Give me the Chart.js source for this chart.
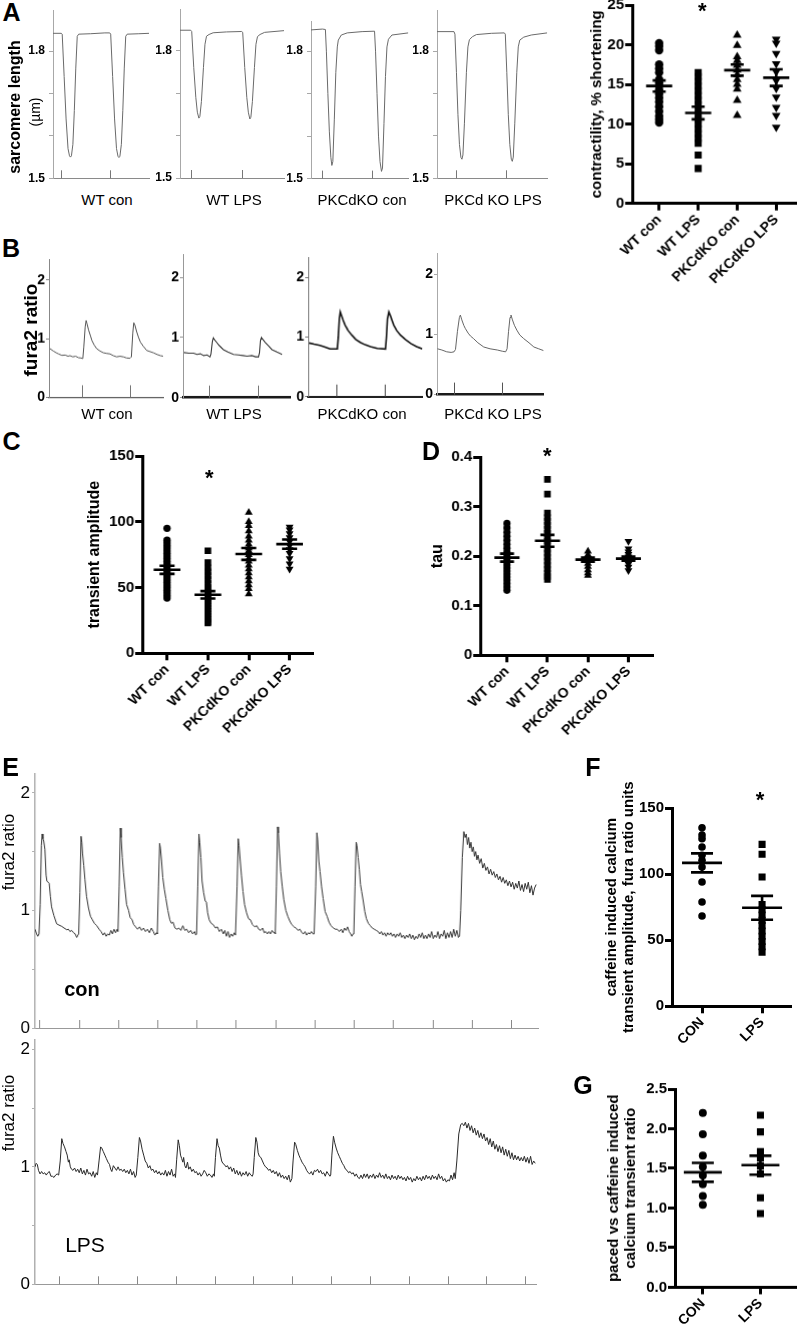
<!DOCTYPE html>
<html>
<head>
<meta charset="utf-8">
<script src="https://cdn.jsdelivr.net/npm/chart.js@4.4.1/dist/chart.umd.min.js"></script>
<style>
body { margin: 0; background: #fff; }
#fig { position: relative; width: 800px; height: 1325px; overflow: hidden; background: #fff;
       font-family: Arial, "Liberation Sans", Helvetica, sans-serif; color: #000; }
.box { position: absolute; }
.lab { position: absolute; white-space: nowrap; line-height: 1; }
</style>
</head>
<body>
<div id="fig"></div>
<script>
// ---- categories and tick labels ----
const scatterCats = ['WT con', 'WT LPS', 'PKCdKO con', 'PKCdKO LPS'];
const caffCats = ['CON', 'LPS'];
const traceNames = ['WT con', 'WT LPS', 'PKCdKO con', 'PKCd KO LPS'];

const slTicks = [1.5, 1.6, 1.7, 1.8];
const slTickLabels = ['1.5', '', '', '1.8'];
const furaTicks = [0, 1, 2];
const furaTickLabels = ['0', '1', '2'];
const eTicks = [0, 0.5, 1, 1.5, 2];
const eTickLabels = ['0', '', '1', '', '2'];
const shortTicks = [0, 5, 10, 15, 20, 25];
const ampTicks = [0, 50, 100, 150];
const tauTicks = [0, 0.1, 0.2, 0.3, 0.4];
const caffTicks = [0, 50, 100, 150];
const ratioTicks = [0, 0.5, 1, 1.5, 2, 2.5];

// stimulus marks (time units of each trace)
const stimAB = [0, 1];
const stimE = [0, 1, 2, 3, 4, 5, 6, 7, 8, 9, 10, 11, 12];

// ---- A: contractility, % shortening ----
const shortWtCon = [20.2, 19.8, 19.3, 17.5, 17.0, 16.5, 15.6, 15.2, 14.8, 14.3, 13.8, 13.3, 12.8, 12.2, 11.6, 11.0, 10.6, 10.2];
const shortWtLps = [16.5, 16.0, 15.4, 14.8, 14.2, 13.6, 13.0, 12.4, 11.8, 11.2, 10.6, 10.0, 9.4, 8.8, 8.2, 7.6, 6.1, 4.4];
const shortKoCon = [21.2, 19.9, 18.5, 18.0, 17.4, 16.8, 16.2, 15.6, 15.0, 14.4, 13.0, 11.1];
const shortKoLps = [20.7, 20.2, 18.9, 17.6, 16.6, 15.5, 14.5, 13.4, 12.1, 11.1, 9.6];
const shortMean = [14.8, 11.4, 16.8, 15.85];
const shortSem = [0.7, 0.8, 0.7, 1.05];

// ---- C: transient amplitude ----
const ampWtCon = [95, 86, 84, 82, 80, 78, 76, 74, 72, 70, 68, 66, 64, 62, 60, 58, 56, 54, 52, 50, 48, 46, 44, 42];
const ampWtLps = [78, 69, 65, 62, 59, 56, 53, 50, 48, 46, 44, 42, 40, 38, 36, 34, 32, 30, 28, 26, 24, 23];
const ampKoCon = [107, 100, 97, 93, 89, 86, 83, 80, 78, 75, 72, 70, 67, 64, 61, 58, 55, 52, 49, 45];
const ampKoLps = [96, 94, 91, 88, 85, 82, 79, 76, 72, 68, 64];
const ampMean = [63.5, 44.5, 75.5, 83];
const ampSem = [3.1, 2.8, 4.5, 3.5];

// ---- D: tau ----
const tauWtCon = [0.266, 0.257, 0.248, 0.240, 0.232, 0.224, 0.216, 0.208, 0.200, 0.194, 0.188, 0.182, 0.176, 0.170, 0.164, 0.158, 0.152, 0.145, 0.138, 0.131];
const tauWtLps = [0.355, 0.325, 0.287, 0.278, 0.270, 0.262, 0.254, 0.246, 0.238, 0.230, 0.222, 0.214, 0.206, 0.198, 0.190, 0.182, 0.174, 0.166, 0.159, 0.153];
const tauKoCon = [0.210, 0.203, 0.197, 0.191, 0.185, 0.179, 0.172, 0.166, 0.161];
const tauKoLps = [0.230, 0.215, 0.209, 0.204, 0.199, 0.194, 0.189, 0.184, 0.178, 0.171];
const tauMean = [0.197, 0.231, 0.193, 0.195];
const tauSem = [0.008, 0.012, 0.004, 0.004];

// ---- F: caffeine induced transient amplitude ----
const caffCon = [135, 129.6, 126.8, 120.5, 114.2, 110.4, 105.4, 94, 78.9, 68.3];
const caffLps = [122.5, 115, 97.8, 77, 73, 69, 65, 61, 57, 53, 49, 45, 41];
const caffMean = [108.5, 74.5];
const caffSem = [7.2, 9];

// ---- G: paced vs caffeine ratio ----
const ratioCon = [2.20, 1.93, 1.66, 1.52, 1.41, 1.30, 1.15, 1.04];
const ratioLps = [2.17, 1.96, 1.71, 1.63, 1.53, 1.43, 1.13, 0.93];
const ratioMean = [1.45, 1.54];
const ratioSem = [0.12, 0.12];

// ---- A traces: sarcomere length [t, um] ----
const slWtCon = [[-0.17,1.842],[0.0,1.842],[0.02,1.84],[0.06,1.74],[0.1,1.64],[0.14,1.57],[0.17,1.553],[0.19,1.55],[0.21,1.553],[0.24,1.58],[0.27,1.66],[0.3,1.76],[0.33,1.835],[0.36,1.84],[0.6,1.841],[0.9,1.843],[1.0,1.843],[1.02,1.84],[1.06,1.74],[1.1,1.64],[1.14,1.57],[1.17,1.552],[1.19,1.549],[1.21,1.552],[1.24,1.58],[1.27,1.66],[1.3,1.76],[1.33,1.835],[1.36,1.84],[1.6,1.841],[1.81,1.842]];
const slWtLps = [[-0.21,1.848],[0.0,1.848],[0.02,1.845],[0.06,1.76],[0.1,1.69],[0.13,1.655],[0.16,1.641],[0.18,1.645],[0.21,1.68],[0.25,1.76],[0.28,1.815],[0.31,1.834],[0.36,1.838],[0.44,1.842],[0.7,1.844],[1.0,1.845],[1.02,1.843],[1.06,1.76],[1.1,1.69],[1.13,1.655],[1.16,1.639],[1.18,1.643],[1.21,1.68],[1.25,1.76],[1.28,1.815],[1.31,1.833],[1.36,1.838],[1.45,1.843],[1.83,1.847]];
const slKoCon = [[-0.23,1.85],[0.0,1.852],[0.06,1.851],[0.08,1.8],[0.11,1.7],[0.14,1.61],[0.17,1.55],[0.19,1.531],[0.21,1.54],[0.24,1.64],[0.27,1.75],[0.3,1.81],[0.32,1.826],[0.38,1.838],[0.5,1.843],[0.8,1.846],[1.05,1.847],[1.07,1.8],[1.1,1.7],[1.13,1.6],[1.16,1.54],[1.19,1.517],[1.21,1.525],[1.24,1.63],[1.27,1.74],[1.3,1.81],[1.33,1.828],[1.4,1.838],[1.73,1.843]];
const slKoLps = [[-0.39,1.846],[-0.05,1.846],[-0.03,1.84],[0.0,1.75],[0.03,1.65],[0.06,1.58],[0.09,1.549],[0.11,1.545],[0.13,1.555],[0.16,1.63],[0.2,1.75],[0.23,1.81],[0.26,1.827],[0.32,1.834],[0.4,1.839],[0.7,1.842],[0.96,1.843],[0.98,1.84],[1.01,1.75],[1.04,1.65],[1.07,1.58],[1.1,1.545],[1.12,1.54],[1.14,1.55],[1.17,1.63],[1.21,1.75],[1.24,1.81],[1.27,1.826],[1.35,1.833],[1.5,1.838],[1.82,1.843]];

// ---- B traces: fura2 ratio [t, ratio] ----
const furaWtCon = [[-0.68,0.83],[-0.61,0.79],[-0.55,0.76],[-0.5,0.74],[-0.43,0.715],[-0.36,0.72],[-0.3,0.70],[-0.26,0.71],[-0.2,0.69],[-0.14,0.70],[-0.08,0.675],[-0.03,0.67],[0.01,0.66],[0.03,0.85],[0.06,1.2],[0.08,1.31],[0.1,1.25],[0.13,1.15],[0.17,1.05],[0.2,0.97],[0.25,0.89],[0.3,0.83],[0.37,0.79],[0.44,0.76],[0.5,0.75],[0.58,0.74],[0.65,0.71],[0.72,0.69],[0.79,0.70],[0.86,0.69],[0.93,0.67],[1.0,0.665],[1.03,0.69],[1.06,1.1],[1.08,1.27],[1.1,1.24],[1.14,1.12],[1.18,1.02],[1.22,0.94],[1.28,0.87],[1.35,0.80],[1.42,0.78],[1.49,0.76],[1.57,0.73],[1.64,0.71],[1.70,0.70]];
const furaWtLps = [[-0.53,0.75],[-0.43,0.74],[-0.33,0.74],[-0.26,0.72],[-0.19,0.73],[-0.12,0.70],[-0.05,0.71],[0.01,0.68],[0.03,0.72],[0.06,0.93],[0.08,0.995],[0.11,0.96],[0.15,0.92],[0.2,0.87],[0.29,0.80],[0.38,0.76],[0.5,0.72],[0.6,0.71],[0.7,0.70],[0.78,0.69],[0.88,0.70],[0.96,0.68],[1.02,0.68],[1.04,0.75],[1.06,0.95],[1.08,1.0],[1.12,0.96],[1.16,0.92],[1.23,0.86],[1.3,0.80],[1.4,0.76],[1.51,0.72]];
const furaKoCon = [[-0.55,0.90],[-0.45,0.88],[-0.33,0.86],[-0.22,0.83],[-0.12,0.80],[-0.05,0.80],[0.03,0.80],[0.05,1.0],[0.07,1.3],[0.09,1.42],[0.12,1.35],[0.15,1.28],[0.19,1.20],[0.25,1.11],[0.33,1.03],[0.41,0.96],[0.5,0.91],[0.6,0.87],[0.71,0.84],[0.85,0.81],[1.02,0.80],[1.04,1.0],[1.06,1.3],[1.09,1.42],[1.12,1.36],[1.15,1.29],[1.19,1.20],[1.25,1.11],[1.33,1.03],[1.43,0.96],[1.54,0.89],[1.66,0.84],[1.78,0.80]];
const furaKoLps = [[-0.33,0.76],[-0.24,0.74],[-0.14,0.71],[-0.05,0.70],[0.01,0.71],[0.04,0.75],[0.08,1.05],[0.12,1.28],[0.14,1.32],[0.17,1.24],[0.21,1.15],[0.24,1.10],[0.3,1.02],[0.35,0.97],[0.41,0.93],[0.5,0.86],[0.62,0.79],[0.75,0.76],[0.9,0.74],[1.0,0.72],[1.07,0.71],[1.1,0.76],[1.13,1.05],[1.16,1.28],[1.18,1.32],[1.21,1.24],[1.25,1.15],[1.3,1.07],[1.36,0.99],[1.44,0.93],[1.55,0.86],[1.65,0.79],[1.75,0.76],[1.85,0.73]];

// ---- E traces: paced beats then caffeine [t, ratio] ----
const eCon = [
  [-0.11,0.84],[-0.07,0.80],[-0.04,0.78],[-0.01,0.80],[0.02,1.05],[0.05,1.55],[0.07,1.65],[0.09,1.61],[0.11,1.59],[0.14,1.52],[0.17,1.30],[0.19,1.25],[0.25,1.23],[0.28,1.12],[0.31,1.03],[0.37,0.955],[0.44,0.886],[0.5,0.875],[0.57,0.864],[0.63,0.85],[0.7,0.835],[0.74,0.84],[0.78,0.82],[0.82,0.83],[0.87,0.81],[0.91,0.80],[0.95,0.77],[0.98,0.79],
  [1.0,0.80],[1.03,1.15],[1.06,1.63],[1.08,1.58],[1.1,1.48],[1.13,1.38],[1.16,1.26],[1.2,1.12],[1.25,1.02],[1.3,0.95],[1.35,0.92],[1.4,0.89],[1.46,0.87],[1.52,0.84],[1.57,0.82],[1.62,0.79],[1.66,0.81],[1.7,0.78],[1.74,0.80],[1.78,0.79],[1.82,0.83],[1.86,0.80],[1.9,0.84],[1.94,0.81],[1.98,0.84],
  [2.0,0.82],[2.03,1.2],[2.06,1.70],[2.08,1.62],[2.11,1.45],[2.14,1.32],[2.18,1.18],[2.22,1.05],[2.27,1.00],[2.31,0.94],[2.36,0.92],[2.4,0.88],[2.45,0.86],[2.5,0.84],[2.55,0.86],[2.6,0.83],[2.65,0.85],[2.7,0.82],[2.75,0.84],[2.8,0.81],[2.85,0.85],[2.9,0.82],[2.94,0.79],[2.98,0.81],
  [3.0,0.80],[3.03,1.2],[3.06,1.57],[3.08,1.53],[3.11,1.42],[3.14,1.28],[3.18,1.18],[3.22,1.10],[3.27,1.00],[3.32,0.92],[3.36,0.89],[3.4,0.90],[3.45,0.85],[3.5,0.84],[3.55,0.85],[3.6,0.83],[3.65,0.87],[3.7,0.83],[3.75,0.84],[3.8,0.81],[3.85,0.83],[3.9,0.80],[3.95,0.82],[3.98,0.79],
  [4.0,0.80],[4.03,1.2],[4.06,1.65],[4.08,1.58],[4.11,1.45],[4.14,1.25],[4.18,1.15],[4.22,1.08],[4.25,1.07],[4.28,0.98],[4.32,0.92],[4.37,0.89],[4.42,0.88],[4.48,0.85],[4.53,0.86],[4.58,0.82],[4.63,0.84],[4.68,0.80],[4.72,0.83],[4.76,0.78],[4.8,0.82],[4.84,0.77],[4.88,0.80],[4.92,0.78],[4.96,0.81],[4.99,0.79],
  [5.0,0.79],[5.03,1.2],[5.06,1.61],[5.08,1.55],[5.11,1.42],[5.14,1.30],[5.18,1.16],[5.22,1.05],[5.27,0.98],[5.32,0.93],[5.37,0.92],[5.42,0.88],[5.48,0.86],[5.53,0.87],[5.58,0.84],[5.63,0.83],[5.68,0.85],[5.72,0.81],[5.76,0.82],[5.8,0.80],[5.84,0.82],[5.88,0.80],[5.92,0.83],[5.96,0.81],[5.99,0.81],
  [6.0,0.80],[6.03,1.2],[6.06,1.71],[6.08,1.66],[6.11,1.48],[6.14,1.33],[6.18,1.20],[6.22,1.09],[6.27,1.0],[6.32,0.95],[6.37,0.91],[6.42,0.88],[6.48,0.86],[6.53,0.85],[6.58,0.83],[6.63,0.84],[6.68,0.81],[6.72,0.80],[6.76,0.82],[6.8,0.79],[6.84,0.81],[6.88,0.80],[6.92,0.82],[6.96,0.80],[6.99,0.80],
  [7.0,0.80],[7.03,1.2],[7.06,1.66],[7.08,1.60],[7.11,1.42],[7.14,1.33],[7.18,1.20],[7.22,1.10],[7.27,0.99],[7.32,0.95],[7.37,0.90],[7.42,0.87],[7.48,0.85],[7.53,0.84],[7.58,0.84],[7.63,0.82],[7.68,0.84],[7.72,0.81],[7.76,0.85],[7.8,0.83],[7.84,0.86],[7.88,0.82],[7.92,0.80],[7.95,0.78],[7.98,0.80],
  [8.0,0.80],[8.03,1.2],[8.06,1.58],[8.08,1.55],[8.11,1.45],[8.14,1.35],[8.17,1.22],[8.2,1.16],[8.24,1.08],[8.28,0.99],[8.32,0.93],[8.37,0.89],[8.42,0.87],[8.47,0.85],[8.52,0.84],[8.57,0.83],
  [8.62,0.82],[8.66,0.80],[8.7,0.82],[8.74,0.79],[8.78,0.81],[8.82,0.78],[8.86,0.81],[8.9,0.79],[8.94,0.81],[8.98,0.78],[9.02,0.80],[9.06,0.77],[9.1,0.80],[9.14,0.78],[9.18,0.81],[9.22,0.77],[9.26,0.79],[9.3,0.76],[9.34,0.79],[9.38,0.77],[9.42,0.80],[9.46,0.76],[9.5,0.79],[9.54,0.75],[9.58,0.78],[9.62,0.76],[9.66,0.80],[9.7,0.77],[9.74,0.81],[9.78,0.76],[9.82,0.79],[9.86,0.76],[9.9,0.80],[9.94,0.77],[9.98,0.82],[10.02,0.76],[10.06,0.79],[10.1,0.77],[10.14,0.82],[10.18,0.76],[10.22,0.80],[10.26,0.78],[10.3,0.83],[10.34,0.76],[10.38,0.81],[10.42,0.77],[10.46,0.82],[10.5,0.77],[10.54,0.84],[10.58,0.78],[10.62,0.83],[10.66,0.77],[10.69,0.78],
  [10.72,1.0],[10.76,1.45],[10.8,1.67],[10.83,1.62],[10.86,1.65],[10.89,1.56],[10.92,1.62],[10.95,1.53],[10.98,1.58],[11.01,1.50],[11.04,1.54],[11.07,1.46],[11.1,1.50],[11.13,1.43],[11.16,1.47],[11.2,1.40],[11.24,1.44],[11.28,1.36],[11.32,1.40],[11.36,1.34],[11.4,1.37],[11.44,1.31],[11.48,1.35],[11.52,1.30],[11.56,1.33],[11.6,1.28],[11.64,1.31],[11.68,1.26],[11.72,1.29],[11.76,1.24],[11.8,1.28],[11.84,1.23],[11.88,1.26],[11.92,1.21],[11.96,1.25],[12.0,1.20],[12.04,1.24],[12.08,1.18],[12.12,1.23],[12.16,1.19],[12.2,1.25],[12.24,1.17],[12.28,1.22],[12.32,1.16],[12.36,1.23],[12.4,1.18],[12.44,1.24],[12.48,1.15],[12.52,1.21],[12.56,1.13],[12.6,1.19],[12.64,1.22]
];
const eLps = [
  [-0.63,1.0],[-0.6,1.03],[-0.57,1.02],[-0.54,0.97],[-0.5,0.94],[-0.46,0.96],[-0.42,0.94],[-0.38,0.95],[-0.34,0.93],[-0.3,0.95],[-0.26,0.96],[-0.22,0.92],[-0.18,0.92],[-0.14,0.91],[-0.1,0.93],[-0.06,0.94],[-0.02,0.93],[0.02,1.05],[0.06,1.24],[0.09,1.20],[0.13,1.17],[0.17,1.13],[0.2,1.10],[0.23,1.04],[0.25,1.06],[0.28,1.00],[0.31,0.98],[0.35,0.97],[0.39,0.99],[0.43,0.96],[0.47,0.98],[0.51,0.95],[0.55,0.99],[0.59,0.94],[0.63,0.97],[0.67,0.93],[0.71,0.98],[0.75,0.94],[0.79,0.95],[0.83,0.92],[0.87,0.96],[0.91,0.91],[0.95,0.95],[0.98,0.93],
  [1.02,1.05],[1.06,1.17],[1.09,1.16],[1.13,1.13],[1.17,1.10],[1.21,1.07],[1.25,1.04],[1.29,1.02],[1.32,0.98],[1.35,0.96],[1.39,1.01],[1.43,0.99],[1.47,0.97],[1.51,1.00],[1.55,0.97],[1.59,0.98],[1.63,0.96],[1.67,0.98],[1.71,0.95],[1.75,0.97],[1.79,0.94],[1.83,0.98],[1.87,0.93],[1.91,0.96],[1.95,0.91],[1.98,0.93],
  [2.02,1.08],[2.06,1.25],[2.09,1.22],[2.13,1.15],[2.17,1.10],[2.21,1.05],[2.25,1.03],[2.29,0.99],[2.33,1.01],[2.37,0.97],[2.41,0.98],[2.45,0.95],[2.49,0.97],[2.53,0.94],[2.57,0.96],[2.61,0.93],[2.65,0.95],[2.69,0.93],[2.73,0.97],[2.77,0.92],[2.81,0.96],[2.85,0.93],[2.89,0.98],[2.93,0.92],[2.97,0.94],[2.99,0.91],
  [3.02,1.06],[3.06,1.23],[3.09,1.18],[3.12,1.10],[3.15,1.07],[3.18,1.04],[3.2,1.08],[3.23,1.01],[3.26,0.99],[3.3,1.04],[3.33,0.98],[3.37,1.00],[3.41,0.96],[3.45,0.98],[3.49,0.95],[3.53,0.96],[3.57,0.93],[3.61,0.95],[3.65,0.92],[3.69,0.94],[3.73,0.97],[3.77,0.95],[3.81,0.92],[3.85,0.94],[3.89,0.93],[3.93,0.91],[3.97,0.94],[3.99,0.92],
  [4.02,1.08],[4.06,1.24],[4.09,1.18],[4.12,1.16],[4.15,1.10],[4.18,1.05],[4.21,1.03],[4.25,1.02],[4.29,1.00],[4.33,1.01],[4.37,0.98],[4.41,1.00],[4.45,0.96],[4.49,0.99],[4.53,0.94],[4.57,0.97],[4.61,0.93],[4.65,0.96],[4.69,0.92],[4.73,0.95],[4.77,0.93],[4.81,0.96],[4.85,0.92],[4.89,0.95],[4.93,0.93],[4.97,0.92],[4.99,0.94],
  [5.02,1.08],[5.06,1.25],[5.09,1.21],[5.12,1.12],[5.15,1.09],[5.19,1.08],[5.23,1.05],[5.27,1.02],[5.31,1.00],[5.35,0.99],[5.39,0.97],[5.43,0.98],[5.47,0.95],[5.51,0.97],[5.55,0.94],[5.59,0.96],[5.63,0.92],[5.67,0.95],[5.71,0.91],[5.75,0.93],[5.79,0.90],[5.83,0.92],[5.87,0.89],[5.91,0.93],[5.95,0.87],[5.99,0.90],
  [6.02,1.05],[6.06,1.21],[6.09,1.19],[6.13,1.14],[6.17,1.10],[6.21,1.07],[6.25,1.04],[6.29,1.02],[6.33,1.00],[6.37,0.97],[6.41,0.95],[6.45,0.94],[6.49,0.96],[6.53,0.93],[6.57,0.97],[6.61,0.96],[6.65,0.98],[6.69,0.95],[6.73,0.97],[6.77,0.94],[6.81,0.95],[6.85,0.92],[6.89,0.96],[6.93,0.94],[6.97,0.92],[6.99,0.93],
  [7.02,1.1],[7.06,1.26],[7.09,1.21],[7.13,1.16],[7.17,1.12],[7.21,1.09],[7.25,1.06],[7.29,1.03],[7.33,1.01],[7.37,0.98],[7.41,0.97],[7.45,0.95],[7.49,0.96],[7.53,0.94],[7.57,0.95],[7.61,0.92],[7.65,0.94],[7.69,0.91],[7.73,0.90],
  [7.77,0.93],[7.81,0.90],[7.85,0.94],[7.89,0.91],[7.93,0.94],[7.97,0.90],[8.01,0.93],[8.05,0.91],[8.09,0.94],[8.13,0.90],[8.17,0.93],[8.21,0.91],[8.25,0.95],[8.29,0.91],[8.33,0.93],[8.37,0.90],[8.41,0.94],[8.45,0.90],[8.49,0.92],[8.53,0.89],[8.57,0.93],[8.61,0.90],[8.65,0.92],[8.69,0.89],[8.73,0.93],[8.77,0.90],[8.81,0.92],[8.85,0.89],[8.89,0.91],[8.93,0.88],[8.97,0.92],[9.01,0.89],[9.05,0.91],[9.09,0.87],[9.13,0.90],[9.17,0.88],[9.21,0.92],[9.25,0.89],[9.29,0.91],[9.33,0.88],[9.37,0.92],[9.41,0.89],[9.45,0.93],[9.49,0.90],[9.53,0.92],[9.57,0.89],[9.61,0.93],[9.65,0.90],[9.69,0.92],[9.73,0.89],[9.77,0.94],[9.81,0.90],[9.85,0.92],[9.89,0.88],[9.93,0.90],[9.97,0.87],[10.01,0.89],[10.05,0.88],[10.09,0.93],[10.13,0.89],[10.17,0.95],[10.2,0.90],
  [10.24,1.05],[10.29,1.28],[10.34,1.36],[10.38,1.37],[10.42,1.35],[10.46,1.38],[10.5,1.33],[10.54,1.37],[10.58,1.31],[10.62,1.35],[10.66,1.29],[10.7,1.33],[10.74,1.27],[10.78,1.31],[10.82,1.25],[10.86,1.29],[10.9,1.24],[10.94,1.28],[10.98,1.22],[11.02,1.25],[11.06,1.19],[11.1,1.24],[11.14,1.17],[11.18,1.22],[11.22,1.15],[11.26,1.19],[11.3,1.13],[11.34,1.18],[11.38,1.12],[11.42,1.17],[11.46,1.10],[11.5,1.15],[11.54,1.09],[11.58,1.14],[11.62,1.07],[11.66,1.12],[11.7,1.06],[11.74,1.10],[11.78,1.06],[11.82,1.09],[11.86,1.05],[11.9,1.08],[11.94,1.05],[11.98,1.09],[12.02,1.04],[12.06,1.08],[12.1,1.03],[12.14,1.09],[12.18,1.02],[12.22,1.05],[12.26,1.03]
];

// ---- setup ----
const FONT = 'Arial, "Liberation Sans", Helvetica, sans-serif';
Chart.defaults.font.family = FONT;
Chart.defaults.color = '#000';
Chart.defaults.animation = false;
Chart.defaults.responsive = true;
Chart.defaults.maintainAspectRatio = false;
Chart.defaults.events = [];
Chart.defaults.plugins.legend.display = false;
Chart.defaults.plugins.tooltip.enabled = false;

// short stimulus marks standing up from the time axis
const stimPlugin = {
  id: 'stim',
  afterDraw(chart, args, o) {
    if (!o || !o.at) return;
    const { ctx, chartArea, scales } = chart;
    ctx.save();
    ctx.strokeStyle = o.color;
    ctx.lineWidth = o.width;
    o.at.forEach(v => {
      const px = Math.round(scales.x.getPixelForValue(v)) + 0.5;
      ctx.beginPath();
      ctx.moveTo(px, chartArea.bottom);
      ctx.lineTo(px, chartArea.bottom - o.len);
      ctx.stroke();
    });
    ctx.restore();
  }
};

// mean line with SEM bars
const meanPlugin = {
  id: 'meanSem',
  afterDatasetsDraw(chart, args, o) {
    if (!o || !o.means) return;
    const { ctx, scales: { x, y } } = chart;
    ctx.save();
    ctx.strokeStyle = '#000';
    ctx.lineWidth = o.width;
    o.means.forEach((mu, i) => {
      const cx = x.getPixelForValue(i);
      const ym = y.getPixelForValue(mu);
      const yt = y.getPixelForValue(mu + o.sems[i]);
      const yb = y.getPixelForValue(mu - o.sems[i]);
      ctx.beginPath();
      ctx.moveTo(cx - o.half, ym); ctx.lineTo(cx + o.half, ym);
      ctx.moveTo(cx - o.semHalf, yt); ctx.lineTo(cx + o.semHalf, yt);
      ctx.moveTo(cx - o.semHalf, yb); ctx.lineTo(cx + o.semHalf, yb);
      ctx.moveTo(cx, yt); ctx.lineTo(cx, yb);
      ctx.stroke();
    });
    ctx.restore();
  }
};
Chart.register(stimPlugin, meanPlugin);

const fig = document.getElementById('fig');

function lab(text, cx, cy, font, rot) {
  const d = document.createElement('div');
  d.className = 'lab';
  d.textContent = text;
  d.style.left = cx + 'px';
  d.style.top = cy + 'px';
  d.style.font = font;
  d.style.lineHeight = '1';
  d.style.transform = 'translate(-50%,-50%) rotate(' + (rot || 0) + 'deg)';
  fig.appendChild(d);
}

// canvas box so that the plot area lands on x0..x1, y0..y1
function frame(g, m) {
  const d = document.createElement('div');
  d.className = 'box';
  d.style.left = (g[0] - m.l) + 'px';
  d.style.top = (g[1] - m.t) + 'px';
  d.style.width = (g[2] - g[0] + m.l + m.r) + 'px';
  d.style.height = (g[3] - g[1] + m.t + m.b) + 'px';
  const c = document.createElement('canvas');
  d.appendChild(c);
  fig.appendChild(d);
  return c;
}
const zeroPad = s => { s.paddingLeft = 0; s.paddingRight = 0; s.paddingTop = 0; s.paddingBottom = 0; };
const fitW = w => s => { s.width = w; zeroPad(s); };
const fitH = h => s => { s.height = h; zeroPad(s); };

function trace(g, m, pts, xr, yr, yt, ytl, sty) {
  return new Chart(frame(g, m), {
    type: 'line',
    data: { datasets: [{
      data: pts.map(p => ({ x: p[0], y: p[1] })),
      borderColor: sty.line, borderWidth: sty.lw, pointRadius: 0, tension: 0, fill: false
    }] },
    options: {
      layout: { padding: { top: m.t, right: m.r, left: 0, bottom: 0 } },
      plugins: { stim: { at: sty.stim, len: sty.stimLen, color: sty.stimColor, width: 1 } },
      scales: {
        x: { type: 'linear', min: xr[0], max: xr[1], afterFit: fitH(m.b),
             ticks: { display: false }, grid: { display: false },
             border: { display: true, color: sty.xAxis, width: sty.xw } },
        y: { type: 'linear', min: yr[0], max: yr[1], afterFit: fitW(m.l),
             afterBuildTicks: s => { s.ticks = yt.map(v => ({ value: v })); },
             ticks: { callback: (v, i) => ytl[i], font: sty.tickFont, padding: sty.tickPad, color: '#000' },
             grid: { display: true, drawOnChartArea: false, drawTicks: true, tickLength: sty.tickLen,
                     color: sty.yAxis, lineWidth: 1 },
             border: { display: true, color: sty.yAxis, width: sty.yw } }
      }
    }
  });
}

const pointStyles = ['circle', 'rect', 'triangle', 'triangle'];
const pointRots = [0, 0, 0, 180];

function scatter(g, m, cats, groups, means, sems, xr, yr, yt, fmt, title, sty) {
  const datasets = groups.map((grp, i) => ({
    type: 'scatter',
    data: grp.map(v => ({ x: i, y: v })),
    pointStyle: pointStyles[i], pointRotation: pointRots[i],
    pointRadius: sty.radius[i], backgroundColor: '#000', borderColor: '#000', borderWidth: 0
  }));
  const axisGrid = { display: true, drawOnChartArea: false, drawTicks: true, tickLength: 7,
                     tickWidth: 3, tickColor: '#000', lineWidth: 3, color: '#000' };
  return new Chart(frame(g, m), {
    type: 'scatter',
    data: { datasets },
    options: {
      layout: { padding: { top: m.t, right: m.r, left: 0, bottom: 0 } },
      plugins: { meanSem: { means, sems, half: sty.half, semHalf: sty.semHalf, width: 2.6 } },
      scales: {
        x: { type: 'linear', min: xr[0], max: xr[1], afterFit: fitH(m.b),
             afterBuildTicks: s => { s.ticks = cats.map((c, i) => ({ value: i })); },
             ticks: { autoSkip: false, minRotation: 45, maxRotation: 45, padding: 1,
                      font: { size: 14, weight: 'bold' }, callback: (v, i) => cats[i] },
             grid: axisGrid, border: { display: true, width: 3, color: '#000' } },
        y: { type: 'linear', min: yr[0], max: yr[1], afterFit: fitW(m.l),
             afterBuildTicks: s => { s.ticks = yt.map(v => ({ value: v })); },
             ticks: { padding: 1, font: { size: 15, weight: 'bold' }, callback: fmt },
             grid: axisGrid, border: { display: true, width: 3, color: '#000' },
             title: { display: true, text: title,
                      font: { size: sty.titleSize, weight: 'bold', lineHeight: sty.titleLh },
                      padding: { top: sty.titlePad, bottom: 0 } } }
      }
    }
  });
}

// ---- A: sarcomere length traces ----
const aSty = { line: '#6a6a6a', lw: 1, xAxis: '#8a8a8a', xw: 1, yAxis: '#a8a8a8', yw: 1,
               tickFont: { size: 12, weight: 'bold' }, tickPad: 4, tickLen: 4,
               stim: stimAB, stimLen: 8, stimColor: '#777' };
const aM = { l: 32, t: 6, r: 4, b: 10 };
trace([53.3, 10, 149.3, 178.3], aM, slWtCon, [-0.17, 1.81], [1.5, 1.897], slTicks, slTickLabels, aSty);
trace([180, 9.3, 284, 178.3], aM, slWtLps, [-0.21, 1.83], [1.5, 1.898], slTicks, slTickLabels, aSty);
trace([310.7, 20.7, 408, 178.3], aM, slKoCon, [-0.23, 1.73], [1.5, 1.871], slTicks, slTickLabels, aSty);
trace([437.3, 10, 547.5, 178.3], aM, slKoLps, [-0.39, 1.82], [1.5, 1.897], slTicks, slTickLabels, aSty);

// ---- A: contractility scatter ----
scatter([632.3, 5, 800, 202.7], { l: 48, t: 10, r: 0, b: 85 }, scatterCats,
  [shortWtCon, shortWtLps, shortKoCon, shortKoLps], shortMean, shortSem,
  [-0.69, 3.5], [0, 25], shortTicks, v => v, 'contractility, % shortening',
  { radius: [4.2, 5, 5, 5], half: 13, semHalf: 6.5, titleSize: 15, titleLh: 1.2, titlePad: 3.4 });

// ---- B: fura2 traces ----
const bBase = { tickFont: { size: 14, weight: 'bold' }, tickPad: 1, tickLen: 3, stim: stimAB, stimLen: 12, yw: 1 };
const bM = { l: 22, t: 6, r: 4, b: 10 };
trace([49, 259.3, 163.3, 396.7], bM, furaWtCon, [-0.7, 1.7], [0, 2.355], furaTicks, furaTickLabels,
  Object.assign({ line: '#555', lw: 1, xAxis: '#666', xw: 1.2, yAxis: '#888', stimColor: '#777' }, bBase));
trace([182.7, 254, 290, 396.7], bM, furaWtLps, [-0.55, 1.68], [0, 2.39], furaTicks, furaTickLabels,
  Object.assign({ line: '#3a3a3a', lw: 1.1, xAxis: '#1a1a1a', xw: 2.5, yAxis: '#999', stimColor: '#777' }, bBase));
trace([308.3, 257.3, 421.7, 396], bM, furaKoCon, [-0.57, 1.78], [0, 2.34], furaTicks, furaTickLabels,
  Object.assign({ line: '#111', lw: 1.6, xAxis: '#222', xw: 2, yAxis: '#777', stimColor: '#444' }, bBase));
trace([436.7, 252.7, 543.3, 394.3], bM, furaKoLps, [-0.34, 1.85], [0, 2.35], furaTicks, furaTickLabels,
  Object.assign({ line: '#666', lw: 1, xAxis: '#1a1a1a', xw: 2.5, yAxis: '#aaa', stimColor: '#555' }, bBase));

// ---- C: transient amplitude ----
scatter([142, 456, 311.7, 653.3], { l: 57, t: 12, r: 6, b: 80 }, scatterCats,
  [ampWtCon, ampWtLps, ampKoCon, ampKoLps], ampMean, ampSem,
  [-0.607, 3.566], [0, 150], ampTicks, v => v, 'transient amplitude',
  { radius: [3.7, 4.7, 4.5, 4.5], half: 13.3, semHalf: 7.5, titleSize: 16, titleLh: 1.2, titlePad: 0.4 });

// ---- D: tau ----
scatter([480, 456.7, 651.7, 655], { l: 55, t: 12, r: 6, b: 80 }, scatterCats,
  [tauWtCon, tauWtLps, tauKoCon, tauKoLps], tauMean, tauSem,
  [-0.66, 3.6], [0, 0.4], tauTicks, v => (v === 0 ? '0' : v.toFixed(1)), 'tau',
  { radius: [3.6, 4.7, 4.5, 4.5], half: 12.5, semHalf: 7, titleSize: 16, titleLh: 1.2, titlePad: 2.7 });

// ---- E: paced + caffeine traces ----
const eSty = { lw: 1, xAxis: '#999', xw: 1, yAxis: '#b0b0b0', yw: 1.5,
               tickFont: { size: 17 }, tickPad: 2, tickLen: 3,
               stim: stimE, stimLen: 8, stimColor: '#888' };
trace([35, 774, 537.5, 1028], { l: 30, t: 10, r: 4, b: 10 }, eCon, [-0.11, 12.7], [0, 2.16], eTicks, eTickLabels,
  Object.assign({ line: '#333' }, eSty));
trace([35, 1040, 536, 1284.3], { l: 30, t: 10, r: 4, b: 10 }, eLps, [-0.63, 12.28], [0, 2.08], eTicks, eTickLabels,
  Object.assign({ line: '#2a2a2a' }, eSty));

// ---- F: caffeine amplitude ----
scatter([671.7, 807.7, 790, 1006], { l: 72, t: 45, r: 6, b: 60 }, caffCats,
  [caffCon, caffLps], caffMean, caffSem,
  [-0.5, 1.47], [0, 150], caffTicks, v => v,
  ['caffeine induced calcium', 'transient amplitude, fura ratio units'],
  { radius: [3.8, 5, 5, 5], half: 20, semHalf: 11, titleSize: 15, titleLh: 1.1, titlePad: 3.7 });

// ---- G: paced vs caffeine ratio ----
scatter([675, 1089.3, 800, 1286.7], { l: 75, t: 12, r: 0, b: 38 }, caffCats,
  [ratioCon, ratioLps], ratioMean, ratioSem,
  [-0.483, 1.6], [0, 2.5], ratioTicks, v => v.toFixed(1),
  ['paced vs caffeine induced', 'calcium transient ratio'],
  { radius: [4, 5, 5, 5], half: 19, semHalf: 11, titleSize: 15, titleLh: 1.11, titlePad: 6 });

// ---- text ----
const panelFont = 'bold 25px ' + FONT;
lab('A', 11.5, 12, panelFont);
lab('B', 11, 247.5, panelFont);
lab('C', 11.5, 441, panelFont);
lab('D', 431, 450.5, panelFont);
lab('E', 10.5, 766.5, panelFont);
lab('F', 593, 767, panelFont);
lab('G', 583, 1085, panelFont);

const starFont = 'bold 22px ' + FONT;
[[702.3, 6.7], [209.3, 473.3], [547.3, 452], [760, 796]].forEach(p => lab('*', p[0], p[1] + 4.4, starFont));

const nameX = [107, 234, 362, 493];
traceNames.forEach((t, i) => {
  lab(t, nameX[i], 199, '15px ' + FONT);
  lab(t, nameX[i], 413, '15px ' + FONT);
});

lab('sarcomere length', 15, 107, 'bold 16px ' + FONT, -90);
lab('(\u00b5m)', 35, 112, '14px ' + FONT, -90);
lab('fura2 ratio', 30, 330, 'bold 19px ' + FONT, -90);
lab('fura2 ratio', 8, 852, '17px ' + FONT, -90);
lab('fura2 ratio', 8, 1113, '17px ' + FONT, -90);
lab('con', 82, 989, 'bold 20px ' + FONT);
lab('LPS', 85, 1244, '21px ' + FONT);
</script>
</body>
</html>
